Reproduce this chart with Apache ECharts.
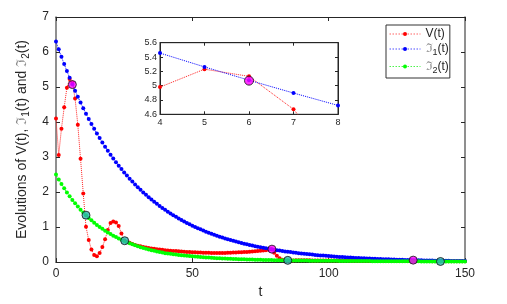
<!DOCTYPE html>
<html><head><meta charset="utf-8">
<script src="https://cdn.jsdelivr.net/npm/echarts@6/dist/echarts.min.js"></script>
<style>html,body{margin:0;padding:0;background:#fff}#c{width:507px;height:304px}</style>
</head><body><div id="c"></div>
<script>
// V(t), t = 0..150 (step 1)
const vValues = [
 4.10,3.06,3.81,4.42,4.98,5.23,5.13,4.67,3.92,2.95,
 1.96,1.01,0.63,0.36,0.20,0.17,0.26,0.43,0.65,0.92,
 1.12,1.16,1.13,1.03,0.82,0.62,0.58,0.55,0.52,0.49,
 0.47,0.45,0.43,0.415,0.40,0.39,0.38,0.37,0.36,0.35,
 0.34,0.333,0.326,0.32,0.314,0.308,0.302,0.297,0.292,0.287,
 0.283,0.279,0.275,0.272,0.269,0.266,0.264,0.262,0.261,0.26,
 0.26,0.261,0.263,0.265,0.268,0.271,0.274,0.278,0.282,0.286,
 0.291,0.296,0.302,0.308,0.315,0.323,0.332,0.342,0.354,0.37,
 0.27,0.18,0.11,0.07,0.045,0.035,0.045,0.048,0.05,0.05,
 0.05,0.05,0.05,0.05,0.049,0.049,0.048,0.048,0.047,0.047,
 0.046,0.046,0.045,0.045,0.044,0.044,0.043,0.043,0.042,0.042,
 0.041,0.041,0.040,0.040,0.039,0.039,0.038,0.038,0.037,0.037,
 0.036,0.036,0.035,0.035,0.034,0.034,0.033,0.033,0.032,0.032,
 0.031,0.031,0.030,0.030,0.029,0.029,0.028,0.028,0.027,0.027,
 0.026,0.026,0.025,0.025,0.024,0.024,0.023,0.023,0.022,0.022,
 0.021
];
// Theta_1(t)
const theta1Values = [
 6.300,6.077,5.862,5.655,5.455,5.262,5.076,4.897,4.724,4.557,
 4.396,4.240,4.090,3.946,3.806,3.672,3.542,3.417,3.296,3.179,
 3.067,2.958,2.854,2.753,2.656,2.562,2.471,2.384,2.300,2.218,
 2.140,2.064,1.991,1.921,1.853,1.787,1.724,1.663,1.604,1.548,
 1.493,1.440,1.389,1.340,1.293,1.247,1.203,1.160,1.119,1.080,
 1.041,1.005,0.969,0.935,0.902,0.870,0.839,0.809,0.781,0.753,
 0.726,0.701,0.676,0.652,0.629,0.607,0.585,0.565,0.545,0.525,
 0.507,0.489,0.471,0.455,0.439,0.423,0.408,0.394,0.380,0.366,
 0.353,0.341,0.329,0.317,0.306,0.295,0.285,0.275,0.265,0.256,
 0.247,0.238,0.230,0.222,0.214,0.206,0.199,0.192,0.185,0.179,
 0.172,0.166,0.160,0.155,0.149,0.144,0.139,0.134,0.129,0.125,
 0.120,0.116,0.112,0.108,0.104,0.100,0.097,0.093,0.090,0.087,
 0.084,0.081,0.078,0.075,0.072,0.070,0.067,0.065,0.063,0.060,
 0.058,0.056,0.054,0.052,0.050,0.049,0.047,0.045,0.044,0.042,
 0.041,0.039,0.038,0.036,0.035,0.034,0.033,0.032,0.030,0.029,
 0.028
];
// Theta_2(t)
const theta2Values = [
 2.500,2.361,2.231,2.107,1.990,1.880,1.776,1.678,1.585,1.497,
 1.414,1.336,1.262,1.192,1.126,1.063,1.004,0.949,0.896,0.847,
 0.800,0.755,0.714,0.674,0.637,0.601,0.568,0.537,0.507,0.479,
 0.452,0.427,0.404,0.381,0.360,0.340,0.321,0.304,0.287,0.271,
 0.256,0.245,0.235,0.225,0.215,0.206,0.197,0.189,0.181,0.173,
 0.166,0.159,0.152,0.146,0.140,0.134,0.128,0.123,0.118,0.113,
 0.109,0.105,0.101,0.097,0.093,0.090,0.087,0.084,0.081,0.078,
 0.075,0.073,0.071,0.069,0.067,0.065,0.063,0.061,0.059,0.057,
 0.055,0.054,0.053,0.052,0.051,0.050,0.049,0.048,0.047,0.046,
 0.045,0.044,0.043,0.042,0.041,0.040,0.040,0.039,0.038,0.037,
 0.037,0.036,0.035,0.035,0.034,0.033,0.033,0.032,0.031,0.031,
 0.030,0.030,0.029,0.029,0.028,0.028,0.027,0.027,0.026,0.026,
 0.025,0.025,0.025,0.024,0.024,0.023,0.023,0.023,0.022,0.022,
 0.022,0.021,0.021,0.021,0.020,0.020,0.020,0.019,0.019,0.019,
 0.018,0.018,0.018,0.018,0.017,0.017,0.017,0.016,0.016,0.016,
 0.016
];
// highlighted intersection points
const magentaT = [6, 79.2, 131];
const magentaV = [5.07, 0.37, 0.056];
const cyanT = [11, 25.2, 85, 141];
const cyanV = [1.34, 0.61, 0.05, 0.018];
// axis ranges / ticks
const mainX = {min: 0, max: 150, interval: 50};
const mainY = {min: 0, max: 7, interval: 1};
const insetX = {min: 4, max: 8, interval: 1};
const insetY = {min: 4.6, max: 5.6, interval: 0.2};
const legendNames = ['V(t)', 'I1', 'I2'];

const FONT = 'Liberation Sans';
const pairs = arr => arr.map((v, i) => [i, v]);
const pts = (ts, vs) => ts.map((t, i) => [t, vs[i]]);

const richBase = {
  n: {fontSize: 14, fontFamily: FONT, color: '#262626', lineHeight: 18, verticalAlign: 'middle'},
  g: {fontSize: 14, fontFamily: 'DejaVu Serif', color: '#8a8a8a', lineHeight: 18, verticalAlign: 'middle'},
  s: {fontSize: 10, fontFamily: FONT, color: '#262626', lineHeight: 18, verticalAlign: 'bottom'}
};
const richLegend = {
  n: {fontSize: 12, fontFamily: FONT, color: '#262626', lineHeight: 16, verticalAlign: 'middle'},
  g: {fontSize: 12, fontFamily: 'DejaVu Serif', color: '#8a8a8a', lineHeight: 16, verticalAlign: 'middle'},
  s: {fontSize: 9, fontFamily: FONT, color: '#262626', lineHeight: 17, verticalAlign: 'bottom'}
};

const vAxisLine = {onZero: false, lineStyle: {color: '#6a6a6a', width: 1.5}};
const hAxisLine = {onZero: false, lineStyle: {color: '#262626', width: 1}};
const tick = {inside: true, length: 4, lineStyle: {color: '#262626'}};
const itick = {inside: true, length: 3, lineStyle: {color: '#262626'}};
const lbl = {color: '#262626', fontFamily: FONT, fontSize: 12};
const ilbl = {color: '#262626', fontFamily: FONT, fontSize: 9};

const chart = echarts.init(document.getElementById('c'), null, {renderer: 'canvas'});
chart.setOption({
  animation: false,
  backgroundColor: '#fff',
  grid: [
    {left: 56, right: 42, top: 17, bottom: 41.5},
    {left: 160, top: 42.7, width: 178, height: 71.6, show: true, backgroundColor: '#fff', borderColor: '#262626', borderWidth: 1, z: 5}
  ],
  legend: {
    data: legendNames,
    orient: 'vertical', left: 386, top: 25,
    itemWidth: 31, itemHeight: 5, itemGap: 3,
    padding: [3, 1, 3, 3],
    borderColor: '#333', borderWidth: 1, backgroundColor: '#fff',
    lineStyle: {width: 1, type: [1.5, 1.5], opacity: 0.7},
    formatter: function (name) {
      if (name === 'V(t)') return '{n|V(t)}';
      if (name === 'I1') return '{g|ℑ}{s|1}{n|(t)}';
      return '{g|ℑ}{s|2}{n|(t)}';
    },
    textStyle: {rich: richLegend}
  },
  xAxis: [
    {gridIndex: 0, type: 'value', min: mainX.min, max: mainX.max, interval: mainX.interval,
     axisLine: hAxisLine, axisTick: tick, splitLine: {show: false}, axisLabel: Object.assign({margin: 6}, lbl),
     name: 't', nameLocation: 'middle', nameGap: 19, nameTextStyle: {fontFamily: FONT, fontSize: 14, color: '#262626'}},
    {gridIndex: 0, type: 'value', position: 'top', min: mainX.min, max: mainX.max, interval: mainX.interval,
     axisLine: hAxisLine, axisTick: tick, splitLine: {show: false}, axisLabel: {show: false}},
    {gridIndex: 1, type: 'value', min: insetX.min, max: insetX.max, interval: insetX.interval,
     axisLine: hAxisLine, axisTick: itick, splitLine: {show: false}, axisLabel: Object.assign({margin: 4}, ilbl), z: 6},
    {gridIndex: 1, type: 'value', position: 'top', min: insetX.min, max: insetX.max, interval: insetX.interval,
     axisLine: hAxisLine, axisTick: itick, splitLine: {show: false}, axisLabel: {show: false}, z: 6}
  ],
  yAxis: [
    {gridIndex: 0, type: 'value', min: mainY.min, max: mainY.max, interval: mainY.interval,
     axisLine: vAxisLine, axisTick: tick, splitLine: {show: false}, axisLabel: Object.assign({margin: 7}, lbl),
     name: '{n|Evolutions of V(t), }{g|ℑ}{s|1}{n|(t) and }{g|ℑ}{s|2}{n|(t)}',
     nameLocation: 'middle', nameGap: 18, nameTextStyle: {rich: richBase}},
    {gridIndex: 0, type: 'value', position: 'right', min: mainY.min, max: mainY.max, interval: mainY.interval,
     axisLine: vAxisLine, axisTick: tick, splitLine: {show: false}, axisLabel: {show: false}},
    {gridIndex: 1, type: 'value', min: insetY.min, max: insetY.max, interval: insetY.interval,
     axisLine: hAxisLine, axisTick: itick, splitLine: {show: false},
     axisLabel: Object.assign({margin: 3, formatter: v => String(Math.round(v * 10) / 10)}, ilbl), z: 6},
    {gridIndex: 1, type: 'value', position: 'right', min: insetY.min, max: insetY.max, interval: insetY.interval,
     axisLine: hAxisLine, axisTick: itick, splitLine: {show: false}, axisLabel: {show: false}, z: 6}
  ],
  series: [
    {name: 'V(t)', type: 'line', xAxisIndex: 0, yAxisIndex: 0, data: pairs(vValues),
     symbol: 'circle', symbolSize: 4, showAllSymbol: true,
     itemStyle: {color: '#ff0000'}, lineStyle: {color: '#ff2020', width: 1, type: 'dotted'}},
    {name: 'I1', type: 'line', xAxisIndex: 0, yAxisIndex: 0, data: pairs(theta1Values),
     symbol: 'circle', symbolSize: 4, showAllSymbol: true,
     itemStyle: {color: '#0000ff'}, lineStyle: {color: '#0000ff', width: 1, type: 'dotted'}},
    {name: 'I2', type: 'line', xAxisIndex: 0, yAxisIndex: 0, data: pairs(theta2Values),
     symbol: 'circle', symbolSize: 4, showAllSymbol: true,
     itemStyle: {color: '#00ff00'}, lineStyle: {color: '#00ee00', width: 1, type: 'dotted'}},
    {type: 'scatter', xAxisIndex: 0, yAxisIndex: 0, data: pts(magentaT, magentaV), symbolSize: 8, z: 4,
     itemStyle: {color: '#ff00ff', borderColor: '#111', borderWidth: 1}},
    {type: 'scatter', xAxisIndex: 0, yAxisIndex: 0, data: pts(cyanT, cyanV), symbolSize: 8, z: 4,
     itemStyle: {color: '#2eb3b3', borderColor: '#111', borderWidth: 1}},
    // inset
    {type: 'line', xAxisIndex: 2, yAxisIndex: 2, data: pairs(vValues).slice(3, 10), clip: true, z: 7,
     symbol: 'circle', symbolSize: 4, showAllSymbol: true,
     itemStyle: {color: '#ff0000'}, lineStyle: {color: '#ff2020', width: 1, type: 'dotted'}},
    {type: 'line', xAxisIndex: 2, yAxisIndex: 2, data: pairs(theta1Values).slice(3, 10), clip: true, z: 7,
     symbol: 'circle', symbolSize: 4, showAllSymbol: true,
     itemStyle: {color: '#0000ff'}, lineStyle: {color: '#0000ff', width: 1, type: 'dotted'}},
    {type: 'scatter', xAxisIndex: 2, yAxisIndex: 2, data: pts(magentaT, magentaV).slice(0, 1), symbolSize: 9, z: 8, clip: true,
     itemStyle: {color: '#ff00ff', borderColor: '#111', borderWidth: 1}}
  ]
});
</script>
</body></html>
